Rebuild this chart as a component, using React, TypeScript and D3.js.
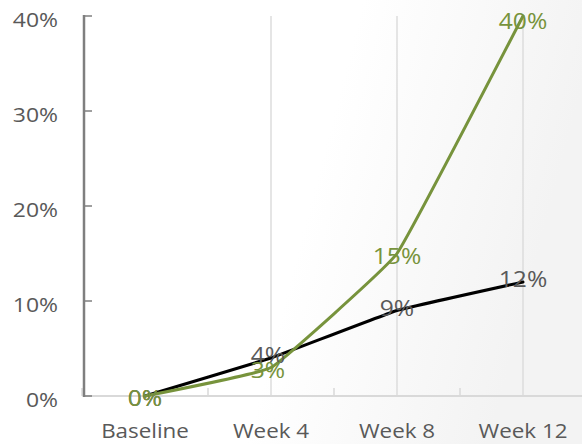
import React from "react";
import * as d3 from "d3";

const categories = ["Baseline", "Week 4", "Week 8", "Week 12"];
const blackSeries = [0, 0.04, 0.09, 0.12];
const greenSeries = [0, 0.03, 0.15, 0.40];
const yTicks = [0, 0.1, 0.2, 0.3, 0.4];

const W = 582;
const H = 444;
const FONT = "'Open Sans', 'DejaVu Sans', sans-serif";
const SX = 1.12;

export default function App() {
  const x = d3.scaleBand<string>().domain(categories).range([82, 586]);
  const y = d3.scaleLinear().domain([0, 0.4]).range([396, 16]);
  const cx = (c: string) => (x(c) as number) + x.bandwidth() / 2;
  const fmt = d3.format(".0%");
  const axisX = 84;

  const line = d3
    .line<number>()
    .x((_, i) => cx(categories[i]))
    .y((d) => y(d))
    .curve(d3.curveCardinal.tension(0.75));

  const T = (props: {
    x: number;
    y: number;
    anchor: string;
    fill: string;
    size: number;
    children: React.ReactNode;
  }) => (
    <text
      transform={`translate(${props.x},${props.y}) scale(${SX},1)`}
      textAnchor={props.anchor as any}
      dominantBaseline="central"
      fill={props.fill}
      fontSize={props.size}
      fontFamily={FONT}
    >
      {props.children}
    </text>
  );

  return (
    <svg
      width={W}
      height={H}
      style={{ position: "absolute", left: 0, top: 0, display: "block" }}
    >
      <defs>
        <linearGradient id="bg" x1="0" y1="0" x2="1" y2="0.2">
          <stop offset="0.6" stopColor="#ffffff" />
          <stop offset="1" stopColor="#f3f3f3" />
        </linearGradient>
      </defs>
      <rect x={0} y={0} width={W} height={H} fill="url(#bg)" />

      {/* vertical gridlines at category centres */}
      {categories.slice(1).map((c) => (
        <line
          key={"g" + c}
          x1={cx(c)}
          x2={cx(c)}
          y1={y(0.4)}
          y2={y(0)}
          stroke="#dcdcdc"
          strokeWidth={1.5}
        />
      ))}

      {/* x axis */}
      <line x1={axisX} x2={W} y1={y(0)} y2={y(0)} stroke="#d9d9d9" strokeWidth={2} />
      {categories.map((c) => (
        <line
          key={"xt" + c}
          x1={x(c) as number}
          x2={x(c) as number}
          y1={y(0)}
          y2={y(0) - 8}
          stroke="#d9d9d9"
          strokeWidth={1.5}
        />
      ))}
      {categories.map((c) => (
        <T key={"xl" + c} x={cx(c)} y={430} anchor="middle" fill="#595959" size={20}>
          {c}
        </T>
      ))}

      {/* y axis */}
      <line x1={axisX} x2={axisX} y1={y(0.4) - 1} y2={y(0) + 1} stroke="#7f7f7f" strokeWidth={2.5} />
      {yTicks.map((t) => (
        <line
          key={"yt" + t}
          x1={axisX}
          x2={axisX + 8}
          y1={y(t)}
          y2={y(t)}
          stroke="#7f7f7f"
          strokeWidth={1.5}
        />
      ))}
      {yTicks.map((t) => (
        <T key={"yl" + t} x={58} y={y(t) + 3} anchor="end" fill="#595959" size={20.5}>
          {fmt(t)}
        </T>
      ))}

      {/* series lines */}
      <path d={line(blackSeries) || ""} fill="none" stroke="#000000" strokeWidth={3} strokeLinecap="round" />
      <path d={line(greenSeries) || ""} fill="none" stroke="#77933c" strokeWidth={3} strokeLinecap="round" />

      {/* data labels */}
      {blackSeries.map((v, i) => (
        <T key={"bl" + i} x={cx(categories[i]) - (i === 1 ? 3 : 0)} y={y(v) + (i === 0 ? 2 : -3)} anchor="middle" fill="#595959" size={22}>
          {fmt(v)}
        </T>
      ))}
      {greenSeries.map((v, i) => (
        <T key={"gl" + i} x={cx(categories[i]) - (i === 1 ? 3 : 0)} y={y(v) + (i === 3 ? 5 : 2)} anchor="middle" fill="#77933c" size={22}>
          {fmt(v)}
        </T>
      ))}
    </svg>
  );
}
